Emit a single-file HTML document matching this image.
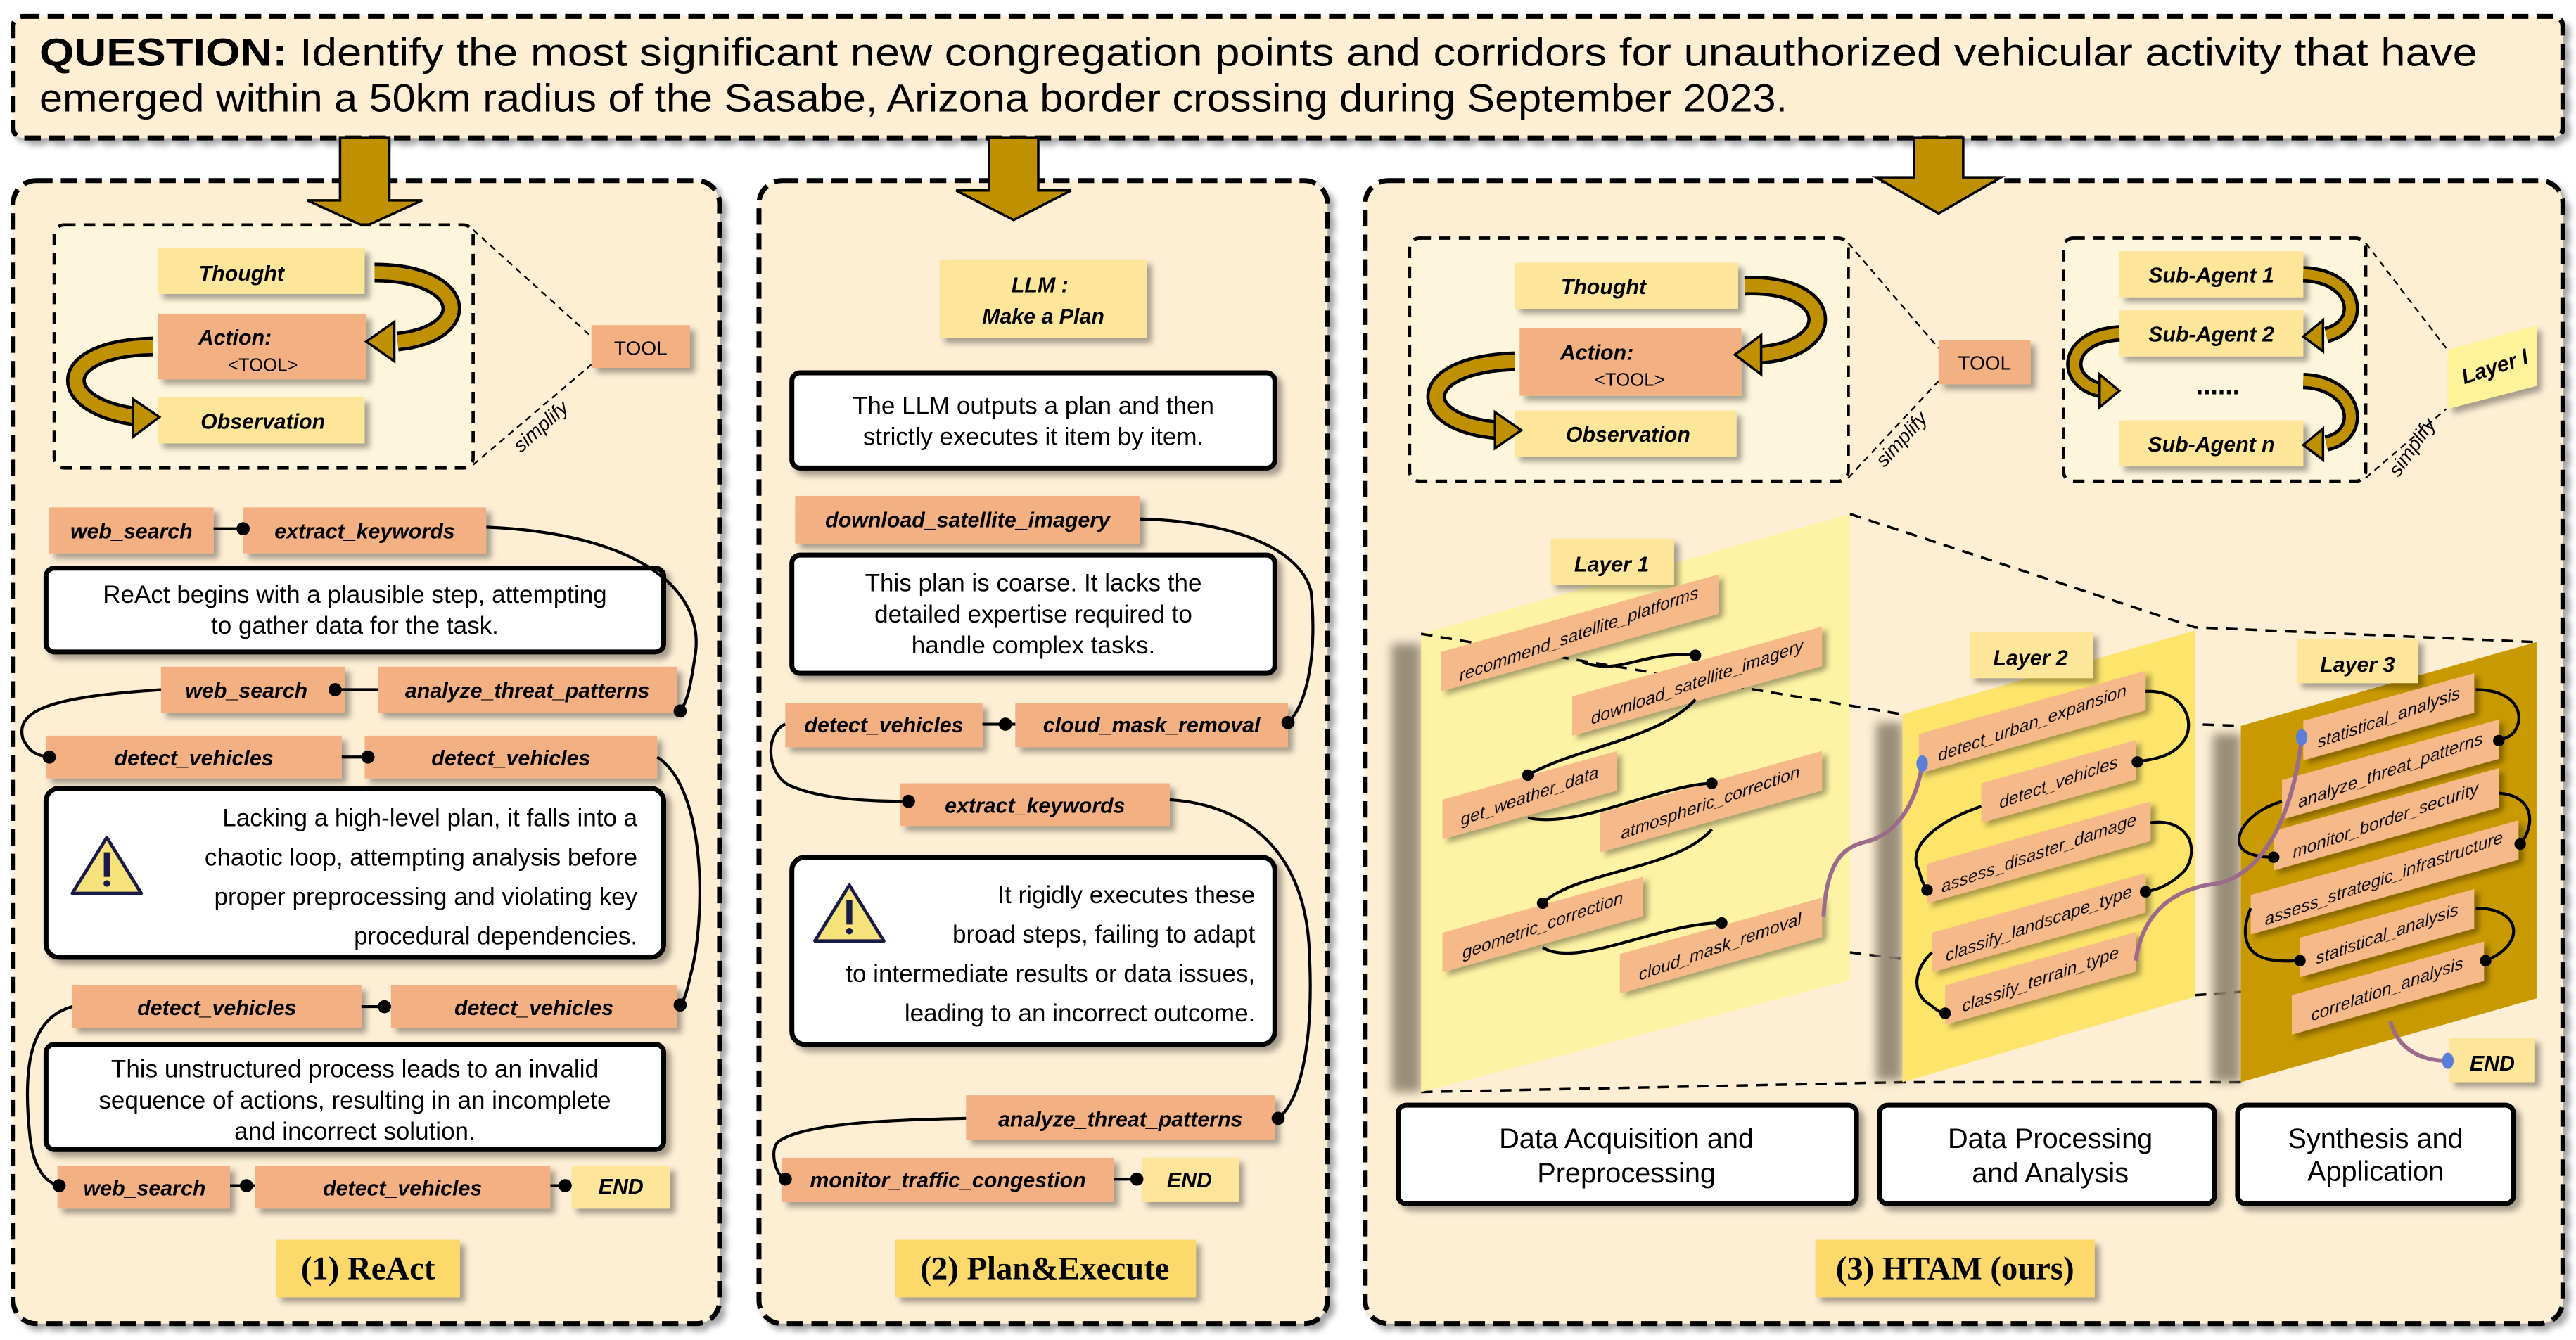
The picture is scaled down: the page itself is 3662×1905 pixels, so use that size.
<!DOCTYPE html>
<html><head><meta charset="utf-8"><style>
html,body{margin:0;padding:0;background:#fff;}
svg{display:block;}
.t{font-family:"Liberation Sans",sans-serif;font-style:italic;font-weight:bold;font-size:13px;fill:#000;}
.b{font-family:"Liberation Sans",sans-serif;font-size:15px;fill:#000;}
.lab{font-family:"Liberation Serif",serif;font-weight:bold;font-size:20px;fill:#000;}
</style></head><body>
<svg width="3662" height="1905" viewBox="0 0 1568 816" preserveAspectRatio="none" xmlns="http://www.w3.org/2000/svg">
<defs>
<filter id="sh" x="-20%" y="-20%" width="150%" height="160%"><feDropShadow dx="3" dy="3" stdDeviation="1.8" flood-color="#000" flood-opacity="0.35"/></filter>
<filter id="bl" x="-50%" y="-10%" width="200%" height="120%"><feGaussianBlur stdDeviation="3"/></filter>
</defs>
<rect width="1568" height="816" fill="#fff"/>
<!-- Question -->
<rect x="8" y="10" width="1552" height="74" rx="6" fill="#fdeed4" stroke="#000" stroke-width="3" stroke-dasharray="10,5" filter="url(#sh)"/>
<text x="24" y="40" font-family="Liberation Sans,sans-serif" font-size="24" textLength="1484" lengthAdjust="spacingAndGlyphs"><tspan font-weight="bold">QUESTION:</tspan> Identify the most significant new congregation points and corridors for unauthorized vehicular activity that have</text>
<text x="24" y="68" font-family="Liberation Sans,sans-serif" font-size="24" textLength="1064" lengthAdjust="spacingAndGlyphs">emerged within a 50km radius of the Sasabe, Arizona border crossing during September 2023.</text>

<!-- Panels -->
<rect x="8" y="110" width="430" height="696" rx="14" fill="#fdeed4" stroke="#000" stroke-width="3" stroke-dasharray="10,5" filter="url(#sh)"/>
<rect x="462" y="110" width="346" height="696" rx="14" fill="#fdeed4" stroke="#000" stroke-width="3" stroke-dasharray="10,5" filter="url(#sh)"/>
<rect x="831" y="110" width="729" height="696" rx="14" fill="#fdeed4" stroke="#000" stroke-width="3" stroke-dasharray="10,5" filter="url(#sh)"/>

<!-- Big arrows -->
<g fill="#bf9000" stroke="#000" stroke-width="1.5">
<polygon points="207,84 237,84 237,122 257,122 222,138 187,122 207,122"/>
<polygon points="602,84 632,84 632,116 652,116 617,134 582,116 602,116"/>
<polygon points="1165,84 1195,84 1195,108 1218,108 1180,130 1142,108 1165,108"/>
</g>

<!-- ===== Panel 1 ReAct ===== -->
<rect x="33" y="137" width="255" height="148" rx="6" fill="#fef6dc" stroke="#000" stroke-width="2" stroke-dasharray="7,5"/>
<line x1="288" y1="140" x2="360" y2="205" stroke="#000" stroke-dasharray="4,3"/>
<line x1="288" y1="283" x2="360" y2="222" stroke="#000" stroke-dasharray="4,3"/>
<text x="0" y="0" transform="translate(317,276) rotate(-42)" font-family="Liberation Sans,sans-serif" font-style="italic" font-size="12">simplify</text>
<g filter="url(#sh)">
<rect x="96" y="151" width="126" height="28" fill="#fde59a"/>
<rect x="96" y="191" width="127" height="40" fill="#f2b083"/>
<rect x="96" y="242" width="126" height="28" fill="#fde59a"/>
<rect x="360" y="198" width="60" height="26" fill="#f2b083"/>
</g>
<text class="t" x="147" y="171" text-anchor="middle">Thought</text>
<text class="t" x="143" y="210" text-anchor="middle">Action:</text>
<text x="160" y="226" text-anchor="middle" font-family="Liberation Sans,sans-serif" font-size="11">&lt;TOOL&gt;</text>
<text class="t" x="160" y="261" text-anchor="middle">Observation</text>
<text x="390" y="216" text-anchor="middle" font-family="Liberation Sans,sans-serif" font-size="12">TOOL</text>
<g fill="none" stroke-linecap="butt">
<path d="M228,166 C285,166 290,203 242,208" stroke="#000" stroke-width="12"/>
<path d="M228,166 C285,166 290,203 242,208" stroke="#bf9000" stroke-width="8"/>
<path d="M93,211 C32,212 32,248 85,254" stroke="#000" stroke-width="12"/>
<path d="M93,211 C32,212 32,248 85,254" stroke="#bf9000" stroke-width="8"/>
</g>
<polygon points="223,208 240,196 240,220" fill="#bf9000" stroke="#000" stroke-width="1.5"/>
<polygon points="97,254 81,243 81,266" fill="#bf9000" stroke="#000" stroke-width="1.5"/>

<g filter="url(#sh)">
<rect x="30" y="309" width="100" height="28" fill="#f2b083"/>
<rect x="148" y="309" width="148" height="28" fill="#f2b083"/>
<rect x="98" y="406" width="112" height="28" fill="#f2b083"/>
<rect x="230" y="406" width="182" height="28" fill="#f2b083"/>
<rect x="28" y="448" width="180" height="26" fill="#f2b083"/>
<rect x="222" y="448" width="178" height="26" fill="#f2b083"/>
<rect x="44" y="600" width="176" height="26" fill="#f2b083"/>
<rect x="238" y="600" width="174" height="26" fill="#f2b083"/>
<rect x="35" y="710" width="105" height="26" fill="#f2b083"/>
<rect x="155" y="710" width="180" height="26" fill="#f2b083"/>
<rect x="348" y="710" width="60" height="26" fill="#fde59a"/>
<rect x="28" y="346" width="376" height="51" rx="5" fill="#fff" stroke="#000" stroke-width="3"/>
<rect x="28" y="480" width="376" height="103" rx="8" fill="#fff" stroke="#000" stroke-width="3"/>
<rect x="28" y="636" width="376" height="64" rx="5" fill="#fff" stroke="#000" stroke-width="3"/>
<rect x="168" y="755" width="112" height="35" fill="#fcd96a"/>
</g>
<text class="t" x="80" y="328" text-anchor="middle">web_search</text>
<text class="t" x="222" y="328" text-anchor="middle">extract_keywords</text>
<text class="t" x="150" y="425" text-anchor="middle">web_search</text>
<text class="t" x="321" y="425" text-anchor="middle">analyze_threat_patterns</text>
<text class="t" x="118" y="466" text-anchor="middle">detect_vehicles</text>
<text class="t" x="311" y="466" text-anchor="middle">detect_vehicles</text>
<text class="t" x="132" y="618" text-anchor="middle">detect_vehicles</text>
<text class="t" x="325" y="618" text-anchor="middle">detect_vehicles</text>
<text class="t" x="88" y="728" text-anchor="middle">web_search</text>
<text class="t" x="245" y="728" text-anchor="middle">detect_vehicles</text>
<text class="t" x="378" y="727" text-anchor="middle">END</text>
<text class="b" x="216" y="367" text-anchor="middle">ReAct begins with a plausible  step, attempting</text>
<text class="b" x="216" y="386" text-anchor="middle">to gather data for the task.</text>
<text class="b" x="388" y="503" text-anchor="end">Lacking a high-level plan, it falls into a</text>
<text class="b" x="388" y="527" text-anchor="end">chaotic loop, attempting analysis before</text>
<text class="b" x="388" y="551" text-anchor="end">proper preprocessing and violating key</text>
<text class="b" x="388" y="575" text-anchor="end">procedural dependencies.</text>
<text class="b" x="216" y="656" text-anchor="middle">This unstructured process leads to an invalid</text>
<text class="b" x="216" y="675" text-anchor="middle">sequence of actions, resulting in an incomplete</text>
<text class="b" x="216" y="694" text-anchor="middle">and incorrect solution.</text>
<text class="lab" x="224" y="779" text-anchor="middle">(1) ReAct</text>
<g stroke="#000" stroke-width="1.8" fill="none">
<line x1="130" y1="322" x2="148" y2="322"/>
<path d="M296,321 C390,325 430,360 423,400 C420,420 418,428 414,433"/>
<line x1="204" y1="420" x2="230" y2="420"/>
<path d="M98,420 C40,424 8,430 14,450 C18,458 22,460 30,461"/>
<line x1="208" y1="461" x2="224" y2="461"/>
<path d="M400,461 C430,480 430,560 420,595 C418,605 416,610 414,612"/>
<line x1="220" y1="613" x2="238" y2="613"/>
<path d="M44,613 C18,620 14,650 18,690 C20,712 28,720 36,722"/>
<line x1="140" y1="722" x2="155" y2="722"/>
<line x1="335" y1="722" x2="348" y2="722"/>
</g>
<g fill="#000">
<circle cx="148" cy="322" r="4"/><circle cx="414" cy="433" r="4"/><circle cx="204" cy="420" r="4"/>
<circle cx="30" cy="461" r="4"/><circle cx="224" cy="461" r="4"/><circle cx="414" cy="612" r="4"/>
<circle cx="234" cy="613" r="4"/><circle cx="36" cy="722" r="4"/><circle cx="150" cy="722" r="4"/><circle cx="344" cy="722" r="4"/>
</g>
<g transform="translate(65,528)">
<polygon points="0,-18 21,16 -21,16" fill="#f6e27a" stroke="#1a1a4a" stroke-width="2" stroke-linejoin="round"/>
<rect x="-1.8" y="-9" width="3.6" height="15" fill="#1a1a4a"/><circle cx="0" cy="10" r="2" fill="#1a1a4a"/>
</g>

<!-- ===== Panel 2 Plan&Execute ===== -->
<g filter="url(#sh)">
<rect x="572" y="158" width="126" height="48" fill="#fde59a"/>
<rect x="484" y="302" width="210" height="29" fill="#f2b083"/>
<rect x="478" y="428" width="120" height="27" fill="#f2b083"/>
<rect x="618" y="428" width="166" height="27" fill="#f2b083"/>
<rect x="548" y="477" width="164" height="26" fill="#f2b083"/>
<rect x="588" y="667" width="188" height="27" fill="#f2b083"/>
<rect x="476" y="705" width="202" height="27" fill="#f2b083"/>
<rect x="695" y="705" width="59" height="27" fill="#fde59a"/>
<rect x="482" y="227" width="294" height="58" rx="5" fill="#fff" stroke="#000" stroke-width="3"/>
<rect x="482" y="338" width="294" height="72" rx="5" fill="#fff" stroke="#000" stroke-width="3"/>
<rect x="482" y="522" width="294" height="114" rx="8" fill="#fff" stroke="#000" stroke-width="3"/>
<rect x="545" y="755" width="183" height="35" fill="#fcd96a"/>
</g>
<text class="t" x="633" y="178" text-anchor="middle">LLM :</text>
<text class="t" x="635" y="197" text-anchor="middle">Make a Plan</text>
<text class="t" x="589" y="321" text-anchor="middle">download_satellite_imagery</text>
<text class="t" x="538" y="446" text-anchor="middle">detect_vehicles</text>
<text class="t" x="701" y="446" text-anchor="middle">cloud_mask_removal</text>
<text class="t" x="630" y="495" text-anchor="middle">extract_keywords</text>
<text class="t" x="682" y="686" text-anchor="middle">analyze_threat_patterns</text>
<text class="t" x="577" y="723" text-anchor="middle">monitor_traffic_congestion</text>
<text class="t" x="724" y="723" text-anchor="middle">END</text>
<text class="b" x="629" y="252" text-anchor="middle">The LLM outputs a plan and then</text>
<text class="b" x="629" y="271" text-anchor="middle">strictly executes it item by item.</text>
<text class="b" x="629" y="360" text-anchor="middle">This plan is coarse. It lacks the</text>
<text class="b" x="629" y="379" text-anchor="middle">detailed expertise required to</text>
<text class="b" x="629" y="398" text-anchor="middle">handle complex tasks.</text>
<text class="b" x="764" y="550" text-anchor="end">It rigidly executes  these</text>
<text class="b" x="764" y="574" text-anchor="end">broad steps, failing to adapt</text>
<text class="b" x="764" y="598" text-anchor="end">to intermediate results or data issues,</text>
<text class="b" x="764" y="622" text-anchor="end">leading to an incorrect outcome.</text>
<text class="lab" x="636" y="779" text-anchor="middle">(2) Plan&amp;Execute</text>
<g transform="translate(517,557)">
<polygon points="0,-18 21,16 -21,16" fill="#f6e27a" stroke="#1a1a4a" stroke-width="2" stroke-linejoin="round"/>
<rect x="-1.8" y="-9" width="3.6" height="15" fill="#1a1a4a"/><circle cx="0" cy="10" r="2" fill="#1a1a4a"/>
</g>
<g stroke="#000" stroke-width="1.8" fill="none">
<path d="M694,316 C740,317 790,330 798,360 C802,400 795,430 784,440"/>
<line x1="598" y1="441" x2="618" y2="441"/>
<path d="M478,441 C466,446 466,470 480,478 C500,487 530,488 553,488"/>
<path d="M712,487 C760,490 795,520 797,580 C800,640 790,672 778,681"/>
<path d="M588,681 C540,682 490,684 474,695 C468,700 472,716 478,718"/>
<line x1="678" y1="718" x2="696" y2="718"/>
</g>
<g fill="#000">
<circle cx="784" cy="440" r="4"/><circle cx="612" cy="441" r="4"/><circle cx="553" cy="488" r="4"/>
<circle cx="778" cy="681" r="4"/><circle cx="478" cy="718" r="4"/><circle cx="692" cy="718" r="4"/>
</g>

<!-- ===== Panel 3 HTAM ===== -->
<rect x="858" y="145" width="267" height="148" rx="6" fill="#fef6dc" stroke="#000" stroke-width="2" stroke-dasharray="7,5"/>
<line x1="1125" y1="148" x2="1180" y2="212" stroke="#000" stroke-dasharray="4,3"/>
<line x1="1125" y1="291" x2="1180" y2="232" stroke="#000" stroke-dasharray="4,3"/>
<text transform="translate(1147,285) rotate(-48)" font-family="Liberation Sans,sans-serif" font-style="italic" font-size="12">simplify</text>
<rect x="1256" y="145" width="184" height="148" rx="6" fill="#fef6dc" stroke="#000" stroke-width="2" stroke-dasharray="7,5"/>
<line x1="1440" y1="148" x2="1489" y2="212" stroke="#000" stroke-dasharray="4,3"/>
<line x1="1440" y1="291" x2="1489" y2="249" stroke="#000" stroke-dasharray="4,3"/>
<text transform="translate(1460,291) rotate(-55)" font-family="Liberation Sans,sans-serif" font-style="italic" font-size="12">simplify</text>
<g filter="url(#sh)">
<rect x="922" y="160" width="136" height="28" fill="#fde59a"/>
<rect x="925" y="200" width="135" height="41" fill="#f2b083"/>
<rect x="922" y="250" width="135" height="28" fill="#fde59a"/>
<rect x="1180" y="207" width="56" height="27" fill="#f2b083"/>
<rect x="1290" y="153" width="112" height="28" fill="#fde59a"/>
<rect x="1290" y="189" width="112" height="28" fill="#fde59a"/>
<rect x="1290" y="256" width="112" height="28" fill="#fde59a"/>
<polygon points="1490,213 1544,198 1544,235 1490,249" fill="#fef29a"/>
</g>
<text class="t" x="976" y="179" text-anchor="middle">Thought</text>
<text class="t" x="972" y="219" text-anchor="middle">Action:</text>
<text x="992" y="235" text-anchor="middle" font-family="Liberation Sans,sans-serif" font-size="11">&lt;TOOL&gt;</text>
<text class="t" x="991" y="269" text-anchor="middle">Observation</text>
<text x="1208" y="225" text-anchor="middle" font-family="Liberation Sans,sans-serif" font-size="12">TOOL</text>
<text class="t" x="1346" y="172" text-anchor="middle">Sub-Agent 1</text>
<text class="t" x="1346" y="208" text-anchor="middle">Sub-Agent 2</text>
<text x="1350" y="240" text-anchor="middle" font-family="Liberation Sans,sans-serif" font-weight="bold" font-size="16">......</text>
<text class="t" x="1346" y="275" text-anchor="middle">Sub-Agent n</text>
<text class="t" transform="translate(1500,234) rotate(-18)" font-size="12">Layer <tspan font-style="italic">l</tspan></text>
<g fill="none">
<path d="M1062,174 C1118,172 1120,212 1072,216" stroke="#000" stroke-width="12"/>
<path d="M1062,174 C1118,172 1120,212 1072,216" stroke="#bf9000" stroke-width="8"/>
<path d="M922,220 C860,222 860,258 912,262" stroke="#000" stroke-width="12"/>
<path d="M922,220 C860,222 860,258 912,262" stroke="#bf9000" stroke-width="8"/>
<path d="M1402,167 C1435,168 1440,198 1416,204" stroke="#000" stroke-width="10"/>
<path d="M1402,167 C1435,168 1440,198 1416,204" stroke="#bf9000" stroke-width="6"/>
<path d="M1290,203 C1255,205 1255,235 1282,238" stroke="#000" stroke-width="10"/>
<path d="M1290,203 C1255,205 1255,235 1282,238" stroke="#bf9000" stroke-width="6"/>
<path d="M1402,232 C1435,233 1440,265 1416,270" stroke="#000" stroke-width="10"/>
<path d="M1402,232 C1435,233 1440,265 1416,270" stroke="#bf9000" stroke-width="6"/>
</g>
<g fill="#bf9000" stroke="#000" stroke-width="1.5">
<polygon points="1056,216 1072,204 1072,228"/>
<polygon points="926,262 910,251 910,273"/>
<polygon points="1402,205 1414,195 1414,214"/>
<polygon points="1290,238 1278,228 1278,248"/>
<polygon points="1402,271 1414,261 1414,280"/>
</g>

<!-- Layers -->
<g stroke="#000" stroke-width="1.5" stroke-dasharray="7,5" fill="none">
<polyline points="1126,313 1336,382 1544,391"/>
<polyline points="865,386 1158,435 1364,442"/>
<polyline points="865,665 1158,659 1364,659"/>
<line x1="1126" y1="580" x2="1158" y2="584"/>
<line x1="1336" y1="606" x2="1364" y2="604"/>
</g>
<rect x="847" y="392" width="18" height="273" fill="#8f8470" filter="url(#bl)" opacity="0.9"/>
<polygon points="865,386 1126,313 1126,597 865,665" fill="#fef3a0" opacity="0.92"/>
<rect x="1142" y="440" width="16" height="218" fill="#8f8470" filter="url(#bl)" opacity="0.9"/>
<polygon points="1158,435 1336,384 1336,607 1158,659" fill="#fde56c"/>
<rect x="1347" y="447" width="17" height="212" fill="#8f8470" filter="url(#bl)" opacity="0.9"/>
<polygon points="1364,442 1544,391 1544,608 1364,659" fill="#c99a00"/>
<g stroke="#000" stroke-width="1.5" stroke-dasharray="7,5" fill="none">
<line x1="865" y1="386" x2="1158" y2="435"/>
</g>

<g filter="url(#sh)" fill="#fde59a">
<rect x="944" y="328" width="75" height="28"/>
<rect x="1199" y="385" width="75" height="28"/>
<rect x="1398" y="389" width="74" height="27"/>
<rect x="1491" y="632" width="52" height="27"/>
</g>
<text class="t" x="981" y="348" text-anchor="middle">Layer 1</text>
<text class="t" x="1236" y="405" text-anchor="middle">Layer 2</text>
<text class="t" x="1435" y="409" text-anchor="middle">Layer 3</text>
<text class="t" x="1517" y="652" text-anchor="middle">END</text>

<g font-family="Liberation Sans,sans-serif" font-style="italic" font-size="10.5">
<g transform="translate(877,397) skewY(-15.6)" filter="url(#sh)"><rect width="169" height="24" fill="#f6b98a"/><text x="84" y="16" text-anchor="middle" transform="rotate(-4 84 12)">recommend_satellite_platforms</text></g>
<g transform="translate(957,424) skewY(-15.6)" filter="url(#sh)"><rect width="152" height="24" fill="#f6b98a"/><text x="76" y="16" text-anchor="middle" transform="rotate(-4 76 12)">download_satellite_imagery</text></g>
<g transform="translate(878,487) skewY(-15.6)" filter="url(#sh)"><rect width="106" height="24" fill="#f6b98a"/><text x="53" y="16" text-anchor="middle" transform="rotate(-4 53 12)">get_weather_data</text></g>
<g transform="translate(974,495) skewY(-15.6)" filter="url(#sh)"><rect width="135" height="24" fill="#f6b98a"/><text x="67" y="16" text-anchor="middle" transform="rotate(-4 67 12)">atmospheric_correction</text></g>
<g transform="translate(878,568) skewY(-15.6)" filter="url(#sh)"><rect width="122" height="24" fill="#f6b98a"/><text x="61" y="16" text-anchor="middle" transform="rotate(-4 61 12)">geometric_correction</text></g>
<g transform="translate(986,581) skewY(-15.6)" filter="url(#sh)"><rect width="123" height="24" fill="#f6b98a"/><text x="61" y="16" text-anchor="middle" transform="rotate(-4 61 12)">cloud_mask_removal</text></g>
<g transform="translate(1168,447) skewY(-15.6)" filter="url(#sh)"><rect width="138" height="24" fill="#f6b98a"/><text x="69" y="16" text-anchor="middle" transform="rotate(-4 69 12)">detect_urban_expansion</text></g>
<g transform="translate(1206,477) skewY(-15.6)" filter="url(#sh)"><rect width="94" height="24" fill="#f6b98a"/><text x="47" y="16" text-anchor="middle" transform="rotate(-4 47 12)">detect_vehicles</text></g>
<g transform="translate(1173,526) skewY(-15.6)" filter="url(#sh)"><rect width="136" height="24" fill="#f6b98a"/><text x="68" y="16" text-anchor="middle" transform="rotate(-4 68 12)">assess_disaster_damage</text></g>
<g transform="translate(1176,568) skewY(-15.6)" filter="url(#sh)"><rect width="130" height="24" fill="#f6b98a"/><text x="65" y="16" text-anchor="middle" transform="rotate(-4 65 12)">classify_landscape_type</text></g>
<g transform="translate(1184,600) skewY(-15.6)" filter="url(#sh)"><rect width="116" height="24" fill="#f6b98a"/><text x="58" y="16" text-anchor="middle" transform="rotate(-4 58 12)">classify_terrain_type</text></g>
<g transform="translate(1402,439) skewY(-15.6)" filter="url(#sh)"><rect width="104" height="24" fill="#f6b98a"/><text x="52" y="16" text-anchor="middle" transform="rotate(-4 52 12)">statistical_analysis</text></g>
<g transform="translate(1389,475) skewY(-15.6)" filter="url(#sh)"><rect width="132" height="24" fill="#f6b98a"/><text x="66" y="16" text-anchor="middle" transform="rotate(-4 66 12)">analyze_threat_patterns</text></g>
<g transform="translate(1384,506) skewY(-15.6)" filter="url(#sh)"><rect width="137" height="24" fill="#f6b98a"/><text x="68" y="16" text-anchor="middle" transform="rotate(-4 68 12)">monitor_border_security</text></g>
<g transform="translate(1370,545) skewY(-15.6)" filter="url(#sh)"><rect width="163" height="24" fill="#f6b98a"/><text x="81" y="16" text-anchor="middle" transform="rotate(-4 81 12)">assess_strategic_infrastructure</text></g>
<g transform="translate(1400,571) skewY(-15.6)" filter="url(#sh)"><rect width="106" height="24" fill="#f6b98a"/><text x="53" y="16" text-anchor="middle" transform="rotate(-4 53 12)">statistical_analysis</text></g>
<g transform="translate(1395,606) skewY(-15.6)" filter="url(#sh)"><rect width="117" height="24" fill="#f6b98a"/><text x="58" y="16" text-anchor="middle" transform="rotate(-4 58 12)">correlation_analysis</text></g>
</g>

<g stroke="#000" stroke-width="1.8" fill="none">
<path d="M963,403 C985,412 1000,396 1032,399"/>
<path d="M1032,426 C1010,450 960,455 930,472"/>
<path d="M930,498 C960,505 1010,478 1042,477"/>
<path d="M1042,505 C1020,530 960,530 939,550"/>
<path d="M939,577 C960,590 1010,562 1048,562"/>
<path d="M1306,421 C1330,420 1336,440 1330,450 C1322,462 1310,462 1301,464"/>
<path d="M1206,491 C1180,500 1160,515 1168,530 C1170,538 1172,540 1173,542"/>
<path d="M1309,501 C1330,498 1340,515 1330,530 C1320,540 1312,542 1306,543"/>
<path d="M1176,580 C1165,590 1163,605 1175,612 C1180,616 1182,617 1184,617"/>
<path d="M1507,420 C1535,420 1538,440 1528,448 C1524,450 1522,451 1521,451"/>
<path d="M1389,488 C1365,495 1355,515 1370,520 C1376,522 1380,522 1384,522"/>
<path d="M1521,483 C1545,485 1542,505 1534,514"/>
<path d="M1370,553 C1365,565 1364,580 1380,584 C1390,586 1395,585 1400,585"/>
<path d="M1507,553 C1535,553 1538,575 1513,585"/>
</g>
<g fill="#000">
<circle cx="1032" cy="399" r="3.5"/><circle cx="930" cy="472" r="3.5"/><circle cx="1042" cy="477" r="3.5"/>
<circle cx="939" cy="550" r="3.5"/><circle cx="1048" cy="562" r="3.5"/>
<circle cx="1301" cy="464" r="3.5"/><circle cx="1173" cy="542" r="3.5"/><circle cx="1306" cy="543" r="3.5"/><circle cx="1184" cy="617" r="3.5"/>
<circle cx="1521" cy="451" r="3.5"/><circle cx="1384" cy="522" r="3.5"/><circle cx="1534" cy="514" r="3.5"/><circle cx="1400" cy="585" r="3.5"/><circle cx="1513" cy="585" r="3.5"/>
</g>
<g fill="none" stroke-width="2.5">
<path d="M1110,558 C1112,520 1125,515 1138,512 C1160,505 1168,480 1170,465" stroke="#9c6b8a"/>
<path d="M1300,585 C1305,550 1330,540 1350,538 C1385,530 1398,480 1401,449" stroke="#9c6b8a"/>
<path d="M1455,622 C1460,640 1475,646 1490,646" stroke="#9c6b8a"/>
</g>
<g fill="#5b7fd6">
<ellipse cx="1170" cy="465" rx="3.5" ry="5"/><ellipse cx="1401" cy="449" rx="3.5" ry="5"/><ellipse cx="1490" cy="646" rx="3.5" ry="5"/>
</g>

<g filter="url(#sh)">
<rect x="851" y="673" width="279" height="60" rx="5" fill="#fff" stroke="#000" stroke-width="3"/>
<rect x="1144" y="673" width="204" height="60" rx="5" fill="#fff" stroke="#000" stroke-width="3"/>
<rect x="1362" y="673" width="168" height="60" rx="5" fill="#fff" stroke="#000" stroke-width="3"/>
<rect x="1105" y="755" width="170" height="35" fill="#fcd96a"/>
</g>
<g font-family="Liberation Sans,sans-serif" font-size="17" text-anchor="middle">
<text x="990" y="699">Data Acquisition and</text><text x="990" y="720">Preprocessing</text>
<text x="1248" y="699">Data Processing</text><text x="1248" y="720">and Analysis</text>
<text x="1446" y="699">Synthesis and</text><text x="1446" y="719">Application</text>
</g>
<text class="lab" x="1190" y="779" text-anchor="middle">(3) HTAM (ours)</text>
</svg>
</body></html>
